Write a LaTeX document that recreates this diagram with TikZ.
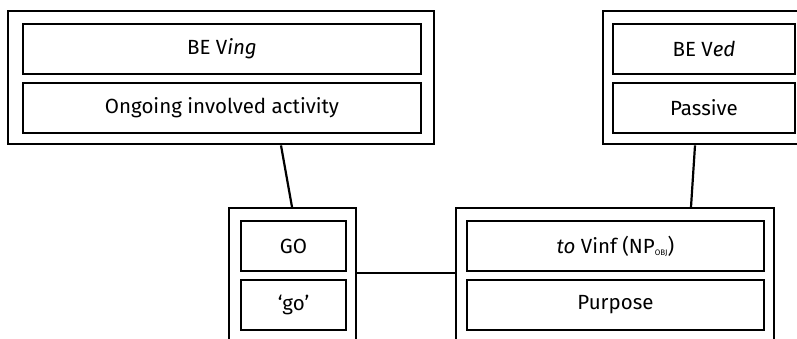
\documentclass[tikz,border=0pt]{standalone}
\usepackage{fontspec}
\setmainfont{Fira Sans}
\begin{document}
\begin{tikzpicture}[x=1pt,y=-1pt,
  outerbox/.style={draw,line width=2.4pt,anchor=north west,inner sep=0pt},
  innerbox/.style={draw,line width=2pt,anchor=north west,inner sep=0pt,
    font=\fontsize{20.5}{24}\selectfont},
  link/.style={line width=2.2pt}]
\useasboundingbox (0,0) rectangle (797,339);
\clip (0,0) rectangle (797,339);
% outer frames
\node[outerbox,minimum width=426pt,minimum height=133pt] (A) at (7,10) {};
\node[outerbox,minimum width=200pt,minimum height=133pt] (B) at (602,10) {};
\node[outerbox,minimum width=127pt,minimum height=160pt] (C) at (228,207) {};
\node[outerbox,minimum width=318pt,minimum height=160pt] (D) at (455,207) {};
% form / meaning cells
\node[innerbox,minimum width=398pt,minimum height=50pt] (A1) at (22,23) {BE V\textit{ing}};
\node[innerbox,minimum width=398pt,minimum height=50pt] (A2) at (22,82) {Ongoing involved activity};
\node[innerbox,minimum width=182pt,minimum height=50pt] (B1) at (612,23) {BE V\textit{ed}};
\node[innerbox,minimum width=182pt,minimum height=50pt] (B2) at (612,82) {Passive};
\node[innerbox,minimum width=105pt,minimum height=50pt] (C1) at (240,220) {GO};
\node[innerbox,minimum width=105pt,minimum height=50pt] (C2) at (240,279) {‘go’};
\node[innerbox,minimum width=297pt,minimum height=50pt] (D1) at (466,220)
  {\textit{to} Vinf (NP\raisebox{-2pt}{\fontsize{8}{8}\selectfont OBJ})};
\node[innerbox,minimum width=297pt,minimum height=50pt] (D2) at (466,279) {Purpose};
% links
\coordinate (a) at ([xshift=274pt]A.south west);
\coordinate (c) at ([xshift=64pt]C.north west);
\coordinate (b) at ([xshift=93pt]B.south west);
\coordinate (d) at ([xshift=236pt]D.north west);
\draw[link] (a) -- (c);
\draw[link] (b) -- (d);
\draw[link] (C.east |- 0,273) -- (D.west |- 0,273);
\end{tikzpicture}
\end{document}
